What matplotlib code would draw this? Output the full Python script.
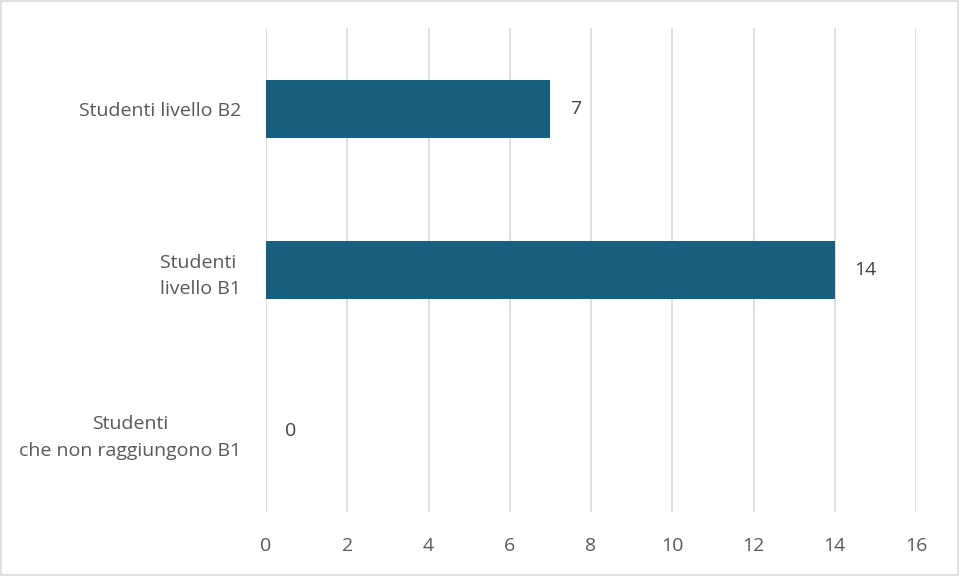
import matplotlib.pyplot as plt
from matplotlib.patches import Rectangle

categories = ["Studenti\nche non raggiungono B1", "Studenti \nlivello B1", "Studenti livello B2"]
values = [0, 14, 7]
xticks = [0, 2, 4, 6, 8, 10, 12, 14, 16]

txt_color = "#595959"
bar_color = "#17607F"
plt.rcParams['font.family'] = ['Open Sans', 'DejaVu Sans']

fig = plt.figure(figsize=(9.61, 5.76), dpi=100)
ax = fig.add_axes([0.2768, 0.111, 0.6764, 0.8403])

ypos = range(len(categories))
ax.barh(ypos, values, height=0.36, color=bar_color, zorder=3)
for y, v in zip(ypos, values):
    ax.annotate(str(v), (v, y), xytext=(14, 0), textcoords="offset points",
                va="center", ha="left", fontsize=14, color="#404040")

ax.set_xlim(0, 16)
ax.set_ylim(-0.5, 2.5)
ax.set_xticks(xticks)
ax.set_xticklabels([str(t) for t in xticks], fontsize=14, color=txt_color)
ax.set_yticks(list(ypos))
ax.set_yticklabels(categories, fontsize=14, color=txt_color, multialignment="center",
                   linespacing=1.6)
ax.tick_params(axis="both", length=0)
ax.tick_params(axis="y", pad=18)
ax.tick_params(axis="x", pad=18)
ax.grid(axis="x", color="#D9D9D9", linewidth=1.2, zorder=0)
for s in ax.spines.values():
    s.set_visible(False)

fig.patches.append(Rectangle((0.001, 0.002), 0.996, 0.996, transform=fig.transFigure,
                             fill=False, edgecolor="#D9D9D9", linewidth=1.2))

fig.savefig("out.png", dpi=100)
